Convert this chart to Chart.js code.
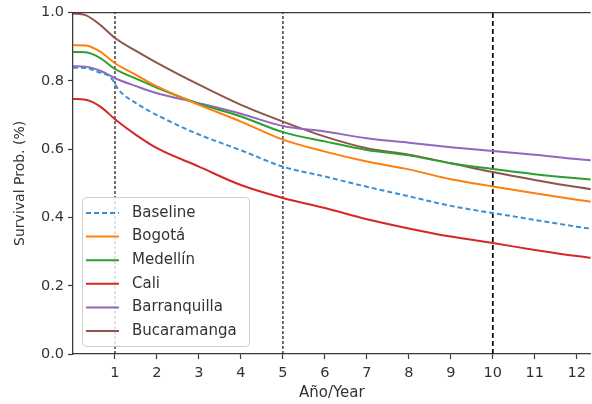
<!DOCTYPE html>
<html>
<head>
<meta charset="utf-8">
<script src="https://cdn.jsdelivr.net/npm/chart.js@4.4.0/dist/chart.umd.min.js"></script>
<style>
  html, body { margin: 0; padding: 0; background: #fff; }
  #wrap { width: 592px; height: 404px; }
</style>
</head>
<body>
<div id="wrap"><canvas id="chart" width="592" height="404"></canvas></div>
<script>
// years on the x axis (baseline has a small step just after year 1)
const years     = [0, 0.3, 0.65, 1, 1.5, 2, 3, 4, 5, 6, 7, 8, 9, 10, 11, 12, 12.4];
const yearsBase = [0, 0.3, 0.6, 0.9, 1.1, 1.5, 2, 3, 4, 5, 6, 7, 8, 9, 10, 11, 12, 12.4];

const baseline     = [0.839, 0.838, 0.826, 0.810, 0.772, 0.735, 0.700, 0.643, 0.597, 0.549, 0.520, 0.490, 0.462, 0.434, 0.413, 0.393, 0.373, 0.366];
const bogota       = [0.905, 0.904, 0.886, 0.852, 0.818, 0.784, 0.730, 0.681, 0.628, 0.593, 0.564, 0.541, 0.512, 0.491, 0.471, 0.452, 0.445];
const medellin     = [0.885, 0.884, 0.867, 0.835, 0.807, 0.780, 0.733, 0.696, 0.650, 0.623, 0.598, 0.582, 0.559, 0.542, 0.527, 0.515, 0.511];
const cali         = [0.747, 0.745, 0.725, 0.688, 0.642, 0.603, 0.549, 0.495, 0.457, 0.428, 0.395, 0.368, 0.344, 0.325, 0.305, 0.287, 0.281];
const barranquilla = [0.843, 0.842, 0.830, 0.808, 0.785, 0.764, 0.735, 0.704, 0.668, 0.652, 0.632, 0.619, 0.606, 0.595, 0.584, 0.571, 0.567];
const bucaramanga  = [0.998, 0.993, 0.964, 0.926, 0.888, 0.853, 0.789, 0.730, 0.681, 0.637, 0.603, 0.584, 0.559, 0.533, 0.510, 0.489, 0.482];

const labels = ['Baseline', 'Bogotá', 'Medellín', 'Cali', 'Barranquilla', 'Bucaramanga'];
const colors = ['#3b8fd4', '#ff7f0e', '#2ca02c', '#d62728', '#9467bd', '#8c564b'];

const vlines = [1, 5, 10];
const xTicks = [1, 2, 3, 4, 5, 6, 7, 8, 9, 10, 11, 12];
const yTicks = [0, 0.2, 0.4, 0.6, 0.8, 1.0];

const series = [baseline, bogota, medellin, cali, barranquilla, bucaramanga];

const pts = (xs, arr) => arr.map((v, i) => ({ x: xs[i], y: v }));

const datasets = series.map((s, i) => ({
    label: labels[i],
    data: pts(i === 0 ? yearsBase : years, s),
    borderColor: colors[i],
    borderWidth: 2,
    borderDash: i === 0 ? [5, 3] : [],
    pointRadius: 0,
    cubicInterpolationMode: 'monotone',
    fill: false
}));

vlines.forEach(x => {
    datasets.push({
        label: '_v' + x,
        data: [{ x: x, y: 0 }, { x: x, y: 1 }],
        borderColor: '#111',
        borderWidth: x === 10 ? 1.8 : 1.2,
        borderDash: x === 10 ? [5, 3] : [3, 2],
        pointRadius: 0
    });
});

const frame = {
    id: 'frame',
    afterDatasetsDraw(chart) {
        const { ctx, chartArea: a } = chart;
        ctx.save();
        ctx.strokeStyle = '#3a3a3a';
        ctx.lineWidth = 1.3;
        ctx.beginPath();
        ctx.moveTo(a.left, a.top);
        ctx.lineTo(a.right, a.top);
        ctx.stroke();
        ctx.restore();
    },
    afterDraw(chart) {
        const ctx = chart.ctx;
        const bx = 82, by = 197, bw = 167, bh = 149;
        ctx.save();
        ctx.fillStyle = 'rgba(255,255,255,0.8)';
        ctx.strokeStyle = '#d0d0d0';
        ctx.lineWidth = 1;
        ctx.beginPath();
        ctx.roundRect(bx + 0.5, by + 0.5, bw, bh, 4);
        ctx.fill();
        ctx.stroke();
        ctx.font = '15px "DejaVu Sans"';
        ctx.textBaseline = 'middle';
        labels.forEach((lab, i) => {
            const y = 213 + i * 23.6;
            ctx.strokeStyle = colors[i];
            ctx.lineWidth = 2;
            ctx.setLineDash(i === 0 ? [5, 3] : []);
            ctx.beginPath();
            ctx.moveTo(86, y);
            ctx.lineTo(119, y);
            ctx.stroke();
            ctx.setLineDash([]);
            ctx.fillStyle = '#333';
            ctx.fillText(lab, 132, y);
        });
        ctx.restore();
    }
};

new Chart(document.getElementById('chart'), {
    type: 'line',
    data: { datasets },
    options: {
        responsive: false,
        animation: false,
        layout: { padding: { top: 12, right: 0, left: 0, bottom: 0 } },
        plugins: {
            legend: { display: false },
            tooltip: { enabled: false }
        },
        scales: {
            x: {
                type: 'linear',
                min: 0,
                max: 12.33,
                afterFit: s => { s.height = 50; },
                afterBuildTicks: s => { s.ticks = xTicks.map(v => ({ value: v })); },
                border: { color: '#3a3a3a', width: 1.3 },
                grid: { drawOnChartArea: false, tickLength: 5, tickColor: '#3a3a3a', tickWidth: 1.2 },
                ticks: {
                    color: '#333',
                    padding: 6,
                    maxRotation: 0,
                    font: { family: 'DejaVu Sans', size: 14.5 }
                },
                title: {
                    display: true,
                    text: 'Año/Year',
                    color: '#333',
                    padding: { top: 0, bottom: 2 },
                    font: { family: 'DejaVu Sans', size: 15 }
                }
            },
            y: {
                min: 0,
                max: 1,
                afterFit: s => { s.width = 73; },
                afterBuildTicks: s => { s.ticks = yTicks.map(v => ({ value: v })); },
                border: { color: '#3a3a3a', width: 1.3 },
                grid: { drawOnChartArea: false, tickLength: 5, tickColor: '#3a3a3a', tickWidth: 1.2 },
                ticks: {
                    color: '#333',
                    padding: 4,
                    font: { family: 'DejaVu Sans', size: 14.5 },
                    callback: v => v.toFixed(1)
                },
                title: {
                    display: true,
                    text: 'Survival Prob. (%)',
                    color: '#333',
                    padding: { top: 12, bottom: 0 },
                    font: { family: 'DejaVu Sans', size: 14 }
                }
            }
        }
    },
    plugins: [frame]
});
</script>
</body>
</html>
